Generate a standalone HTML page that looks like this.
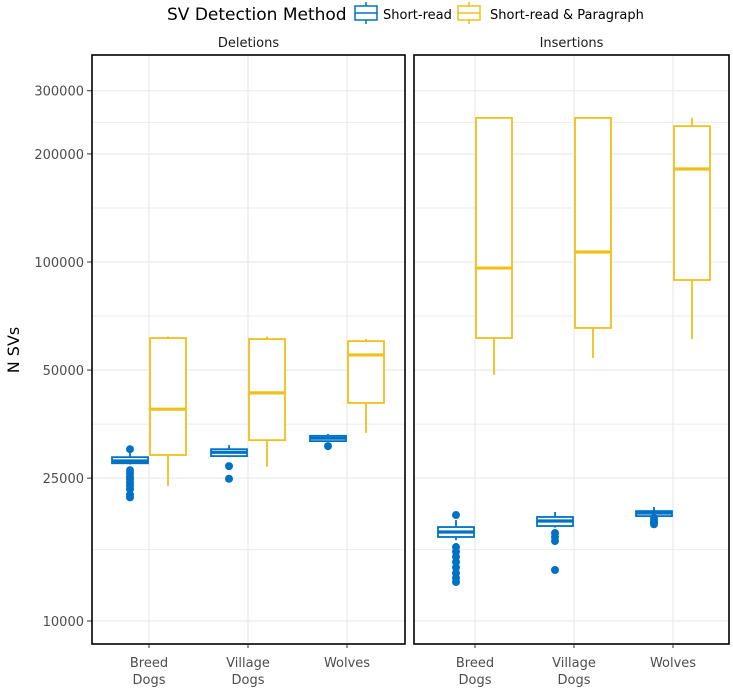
<!DOCTYPE html>
<html><head><meta charset="utf-8"><style>
body{margin:0;background:#fff;}
svg{display:block;font-family:"DejaVu Sans","Liberation Sans",sans-serif;}
</style></head><body>
<svg id="chart" width="733" height="689"></svg>
<script>
const categories=["Breed\nDogs","Village\nDogs","Wolves"];
const facets=["Deletions","Insertions"];
const methods=["Short-read","Short-read & Paragraph"];
const yTicks=[10000,25000,50000,100000,200000,300000];
// each stat: [lowWhisker, q1, median, q3, highWhisker]
const delShort=[[27300,27500,27900,28600,29500],[28600,28800,29500,30100,30900],[31700,31700,32300,32800,33200]];
const delPara=[[23800,29000,38900,61400,62000],[26900,31900,43200,61000,62000],[33400,40500,55100,60200,61000]];
const insShort=[[16800,17140,17700,18270,19110],[18200,18390,18990,19490,20120],[19500,19600,19990,20240,20790]];
const insPara=[[48500,61400,96200,252000,253000],[54000,65500,106600,252000,253000],[61000,89100,181600,239000,252000]];
const delShortOut=[[30100,26300,25800,25200,24800,24300,23800,23300,22500,22100],[27000,24900],[30700]];
const insShortOut=[[19730,16070,15600,15100,14600,14100,13600,13200,12840],[17580,17140,16700,13870],[19350,19000,18800,18600]];
const delParaOut=[[],[],[]];
const insParaOut=[[],[],[]];

const NS="http://www.w3.org/2000/svg";
const svg=document.getElementById('chart');
function el(tag,attrs,parent){const e=document.createElementNS(NS,tag);for(const k in attrs)e.setAttribute(k,attrs[k]);(parent||svg).appendChild(e);return e;}
const yTop=55,yBot=644;
function y(v){return 621-359*Math.log10(v/10000);}
const panels=[{x0:92,x1:405,centers:[149,248,347]},{x0:414,x1:729,centers:[475,574,673]}];
const colors=["#0072c6","#f0c01a"];
const data=[[delShort,delPara],[insShort,insPara]];
const outs=[[delShortOut,delParaOut],[insShortOut,insParaOut]];
const dodge=19,bw=36;

yTicks.forEach((t,i)=>{
  const tx=el('text',{x:84,y:y(t)+5,'text-anchor':'end','font-size':13,fill:'#4d4d4d'});
  tx.textContent=t;
  
  
  el('line',{x1:87,x2:92,y1:y(t),y2:y(t),stroke:'#333','stroke-width':1});
});
const yl=el('text',{x:0,y:0,transform:'translate(19,350) rotate(-90)','text-anchor':'middle','font-size':16,fill:'#000'});
yl.textContent='N SVs';



panels.forEach((p,pi)=>{
  const g=el('g',{});
  
  
  for(let i=0;i<yTicks.length-1;i++){
    const m=Math.sqrt(yTicks[i]*yTicks[i+1]);
    el('line',{x1:p.x0,x2:p.x1,y1:y(m),y2:y(m),stroke:'#ebebeb','stroke-width':1},g);
  }
  yTicks.forEach(t=>el('line',{x1:p.x0,x2:p.x1,y1:y(t),y2:y(t),stroke:'#ebebeb','stroke-width':1.3},g));
  p.centers.forEach(c=>el('line',{x1:c,x2:c,y1:yTop,y2:yBot,stroke:'#ebebeb','stroke-width':1.3},g));
  [0,1].forEach(mi=>{
    const col=colors[mi];
    data[pi][mi].forEach((s,ci)=>{
      const cx=p.centers[ci]+(mi===0?-dodge:dodge);
      const bg=el('g',{},g);
      
      
      el('line',{x1:cx,x2:cx,y1:y(s[4]),y2:y(s[3]),stroke:col,'stroke-width':1.8},bg);
      el('line',{x1:cx,x2:cx,y1:y(s[1]),y2:y(s[0]),stroke:col,'stroke-width':1.8},bg);
      el('rect',{x:cx-bw/2,y:y(s[3]),width:bw,height:Math.max(1,y(s[1])-y(s[3])),fill:'#fff',stroke:col,'stroke-width':1.8},bg);
      el('line',{x1:cx-bw/2,x2:cx+bw/2,y1:y(s[2]),y2:y(s[2]),stroke:col,'stroke-width':3.2},bg);
      outs[pi][mi][ci].forEach(v=>{
        el('circle',{cx:cx,cy:y(v),r:4,fill:col},bg);
      });
    });
  });
  el('rect',{x:p.x0,y:yTop,width:p.x1-p.x0,height:yBot-yTop,fill:'none',stroke:'#000','stroke-width':1.6},g);
  const st=el('text',{x:(p.x0+p.x1)/2,y:47,'text-anchor':'middle','font-size':13,fill:'#1a1a1a'});
  st.textContent=facets[pi];
  
  
  p.centers.forEach((c,ci)=>{
    el('line',{x1:c,x2:c,y1:yBot,y2:yBot+4,stroke:'#333'});
    const lines=categories[ci].split('\n');
    lines.forEach((ln,li)=>{
      const t=el('text',{x:c,y:667+li*17,'text-anchor':'middle','font-size':13,fill:'#4d4d4d'});
      t.textContent=ln;
      
      
    });
  });
});

const lg=el('g',{});


const lt=el('text',{x:167,y:20,'font-size':17,fill:'#000'},lg);
lt.textContent='SV Detection Method';
const legX=[360,463],legTX=[383,490];
methods.forEach((m,i)=>{
  const kg=el('g',{},lg);
  
  
  const cx=legX[i]+6;
  el('line',{x1:cx,x2:cx,y1:2,y2:24,stroke:colors[i],'stroke-width':1.5},kg);
  el('rect',{x:legX[i]-5,y:6,width:22,height:14,fill:'#fff',stroke:colors[i],'stroke-width':1.5},kg);
  el('line',{x1:legX[i]-5,x2:legX[i]+17,y1:13,y2:13,stroke:colors[i],'stroke-width':1.5},kg);
  const t=el('text',{x:legTX[i],y:19,'font-size':13,fill:'#000'},kg);
  t.textContent=m;
});
</script>
</body></html>
